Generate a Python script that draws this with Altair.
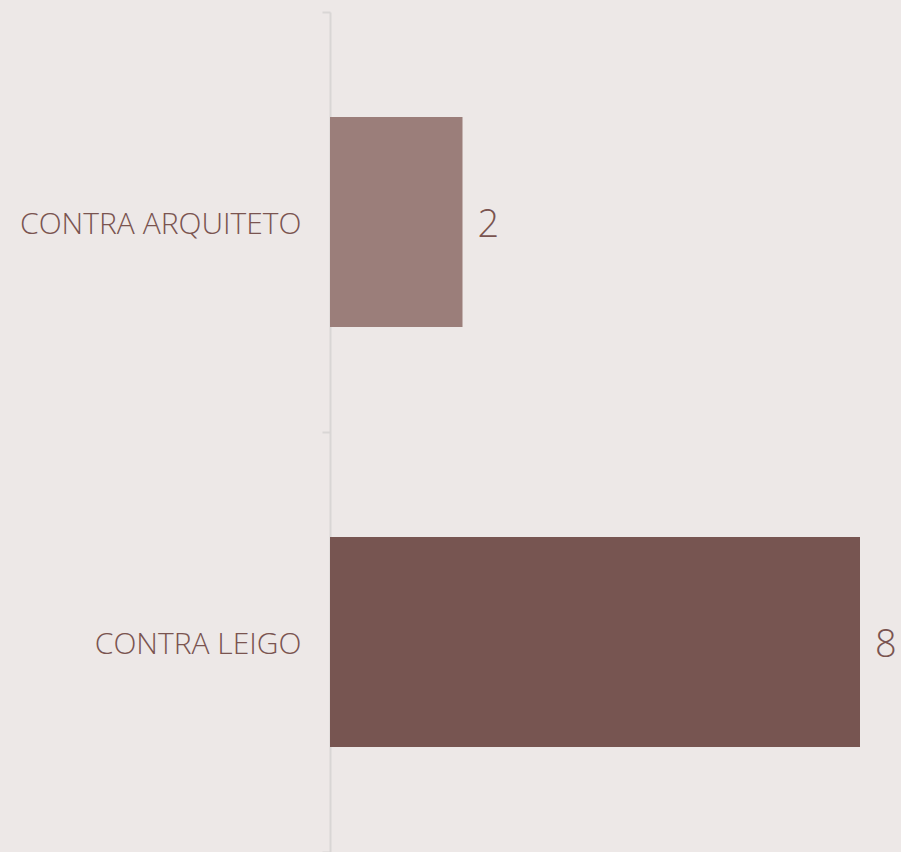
import altair as alt
import pandas as pd

categories = ["CONTRA ARQUITETO", "CONTRA LEIGO"]
values = [2, 8]
colors = ["#9B7E7A", "#775551"]

df = pd.DataFrame({"cat": categories, "val": values, "color": colors})

y = alt.Y("cat:N", sort=categories, title=None,
          scale=alt.Scale(paddingInner=0, paddingOuter=0),
          axis=alt.Axis(domainColor="#D9D6D5", domainWidth=2, tickColor="#D9D6D5",
                        tickWidth=2, tickSize=8, tickBand="extent",
                        labelFont="Open Sans", labelFontWeight=300, labelFontSize=30,
                        labelColor="#7A5450", labelLimit=0, labelOffset=2,
                        labelPadding=21, grid=False))
x = alt.X("val:Q", scale=alt.Scale(domain=[0, 8]), axis=None)

bars = alt.Chart(df).mark_bar(height={"band": 0.5}).encode(
    x=x, y=y, color=alt.Color("color:N", scale=None))

text = alt.Chart(df).mark_text(align="left", baseline="middle", dx=15, dy=4,
                               font="Open Sans", fontWeight=300, fontSize=38,
                               color="#7A5450").encode(
    x=x, y=alt.Y("cat:N", sort=categories), text="val:Q")

chart = (bars + text).properties(
    width=530, height=840, background="#EDE8E7",
    padding={"left": 330, "top": 12, "right": 41, "bottom": 0},
    autosize=alt.AutoSizeParams(type="none")
).configure_view(stroke=None)

chart.save("out.html", embed_options={"renderer": "svg", "actions": False})
